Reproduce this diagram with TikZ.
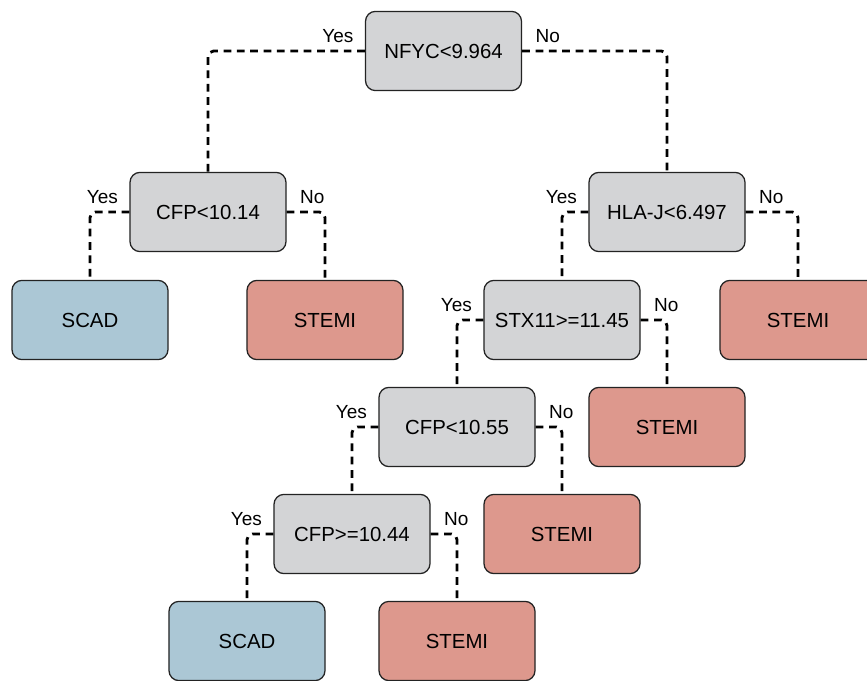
\documentclass[tikz,border=0pt]{standalone}
\usepackage{fontspec}
\setmainfont{Liberation Sans}
\usepackage{xcolor}
\usepackage{tikz}

\definecolor{splitgray}{RGB}{211,212,214}
\definecolor{scadblue}{RGB}{171,199,213}
\definecolor{stemired}{RGB}{221,152,141}
\definecolor{edgegray}{RGB}{35,35,35}

\begin{document}
\begin{tikzpicture}[
  x=0.025cm, y=-0.025cm,
  basebox/.style={draw=edgegray, line width=0.9pt, rounded corners=2.5mm, minimum width=3.9cm, minimum height=1.98cm, align=center, font=\fontsize{14.5}{17}\selectfont},
  splitbox/.style={basebox, fill=splitgray},
  scadbox/.style={basebox, fill=scadblue},
  stemibox/.style={basebox, fill=stemired},
  branch/.style={line width=2pt, dash pattern=on 5.5pt off 4pt, rounded corners=4pt},
  yeslbl/.style={anchor=south east, inner sep=0pt, xshift=-2.5mm, yshift=1.7mm, font=\fontsize{13.5}{16}\selectfont},
  nolbl/.style={anchor=south west, inner sep=0pt, xshift=3mm, yshift=1.7mm, font=\fontsize{13.5}{16}\selectfont}
]
\path[use as bounding box, clip] (0,0) rectangle (867,681);

\node[splitbox] (root) at (443.5,51) {NFYC<9.964};

\node[splitbox] (cfpa) at (208,212) {CFP<10.14};
\node[splitbox] (hla) at (667,212) {HLA-J<6.497};

\node[scadbox] (scada) at (90,320) {SCAD};
\node[stemibox] (stemia) at (325,320) {STEMI};
\node[splitbox] (stx) at (562,320) {STX11>=11.45};
\node[stemibox] (stemib) at (798,320) {STEMI};

\node[splitbox] (cfpb) at (457,427) {CFP<10.55};
\node[stemibox] (stemic) at (667,427) {STEMI};

\node[splitbox] (cfpc) at (352,534) {CFP>=10.44};
\node[stemibox] (stemid) at (562,534) {STEMI};

\node[scadbox] (scadb) at (247,641) {SCAD};
\node[stemibox] (stemie) at (457,641) {STEMI};

\draw[branch] (root.west) node[yeslbl] {Yes} -| (cfpa.north);
\draw[branch] (root.east) node[nolbl] {No} -| (hla.north);

\draw[branch] (cfpa.west) node[yeslbl] {Yes} -| (scada.north);
\draw[branch] (cfpa.east) node[nolbl] {No} -| (stemia.north);

\draw[branch] (hla.west) node[yeslbl] {Yes} -| (stx.north);
\draw[branch] (hla.east) node[nolbl] {No} -| (stemib.north);

\draw[branch] (stx.west) node[yeslbl] {Yes} -| (cfpb.north);
\draw[branch] (stx.east) node[nolbl] {No} -| (stemic.north);

\draw[branch] (cfpb.west) node[yeslbl] {Yes} -| (cfpc.north);
\draw[branch] (cfpb.east) node[nolbl] {No} -| (stemid.north);

\draw[branch] (cfpc.west) node[yeslbl] {Yes} -| (scadb.north);
\draw[branch] (cfpc.east) node[nolbl] {No} -| (stemie.north);
\end{tikzpicture}
\end{document}
